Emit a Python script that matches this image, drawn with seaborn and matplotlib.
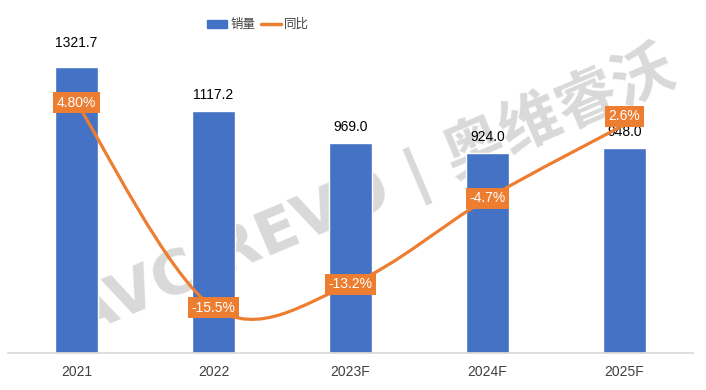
import matplotlib
matplotlib.use("Agg")
import matplotlib.pyplot as plt
import seaborn as sns
import pandas as pd
from matplotlib.path import Path
from matplotlib.patches import PathPatch, Patch
from matplotlib.lines import Line2D

# data
years = ["2021", "2022", "2023F", "2024F", "2025F"]
sales = [1321.7, 1117.2, 969.0, 924.0, 948.0]
yoy = [4.8, -15.5, -13.2, -4.7, 2.6]
yoy_labels = ["4.80%", "-15.5%", "-13.2%", "-4.7%", "2.6%"]

BLUE = "#4472C4"
ORANGE = "#ED7D31"

sns.set_theme(style="white")
plt.rcParams["font.family"] = ["Liberation Sans", "Noto Sans CJK SC", "DejaVu Sans"]

fig = plt.figure(figsize=(7.06, 3.9), dpi=100)
ax = fig.add_axes([8 / 706, 37 / 390, 685 / 706, 303 / 390])

# watermark (behind the bars)
ax.text(0.53, 0.53, "AVC REVO | 奥维睿沃", transform=ax.transAxes, rotation=23,
        fontsize=44, fontweight="semibold", color="#d9d9d9", ha="center", va="center",
        zorder=0.5, family=["DejaVu Sans", "Noto Sans CJK SC"])

df = pd.DataFrame({"year": years, "sales": sales})
sns.barplot(data=df, x="year", y="sales", color=BLUE, saturation=1, width=0.31, ax=ax, zorder=2)
ax.set_xlim(-0.5, 4.5)
ax.set_ylim(0, 1400)
ax.set_xlabel("")
ax.set_ylabel("")
ax.set_yticks([])
for s in ["top", "left", "right"]:
    ax.spines[s].set_visible(False)
ax.spines["bottom"].set_color("#d9d9d9")
ax.tick_params(axis="x", length=0, pad=9, labelsize=10, labelcolor="#404040")

# bar value labels
for i, v in enumerate(sales):
    off = 17 if i == 0 else 11.5
    ax.annotate(f"{v:.1f}", (i, v), xytext=(0, off), textcoords="offset points",
                ha="center", va="center", fontsize=10, color="#000000", zorder=3)

# growth line on secondary axis
ax2 = ax.twinx()
ax2.set_ylim(-20, 10)
ax2.set_xlim(-0.5, 4.5)
ax2.axis("off")

pts = list(zip(range(len(yoy)), yoy))
verts = [pts[0]]
codes = [Path.MOVETO]
n = len(pts)
for i in range(n - 1):
    p0 = pts[max(i - 1, 0)]
    p1 = pts[i]
    p2 = pts[i + 1]
    p3 = pts[min(i + 2, n - 1)]
    c1 = (p1[0] + (p2[0] - p0[0]) / 6, p1[1] + (p2[1] - p0[1]) / 6)
    c2 = (p2[0] - (p3[0] - p1[0]) / 6, p2[1] - (p3[1] - p1[1]) / 6)
    verts += [c1, c2, p2]
    codes += [Path.CURVE4] * 3
ax2.add_patch(PathPatch(Path(verts, codes), fc="none", ec=ORANGE, lw=2.3, zorder=3))

for i, (v, lbl) in enumerate(zip(yoy, yoy_labels)):
    off = 6 if i == n - 1 else 0
    ax2.annotate(lbl, (i, v), xytext=(0, off), textcoords="offset points",
                 ha="center", va="center", fontsize=10, color="white", zorder=4,
                 bbox=dict(boxstyle="square,pad=0.25", fc=ORANGE, ec="none"))

handles = [Patch(color=BLUE), Line2D([0], [0], color=ORANGE, lw=2.5)]
fig.legend(handles, ["销量", "同比"], loc="center", bbox_to_anchor=(258 / 706, 1 - 25 / 390),
           ncol=2, frameon=False, fontsize=9, handlelength=1.6, handleheight=0.6,
           columnspacing=0.4, handletextpad=0.3, labelcolor="#404040")

fig.savefig("out.png", dpi=100)
